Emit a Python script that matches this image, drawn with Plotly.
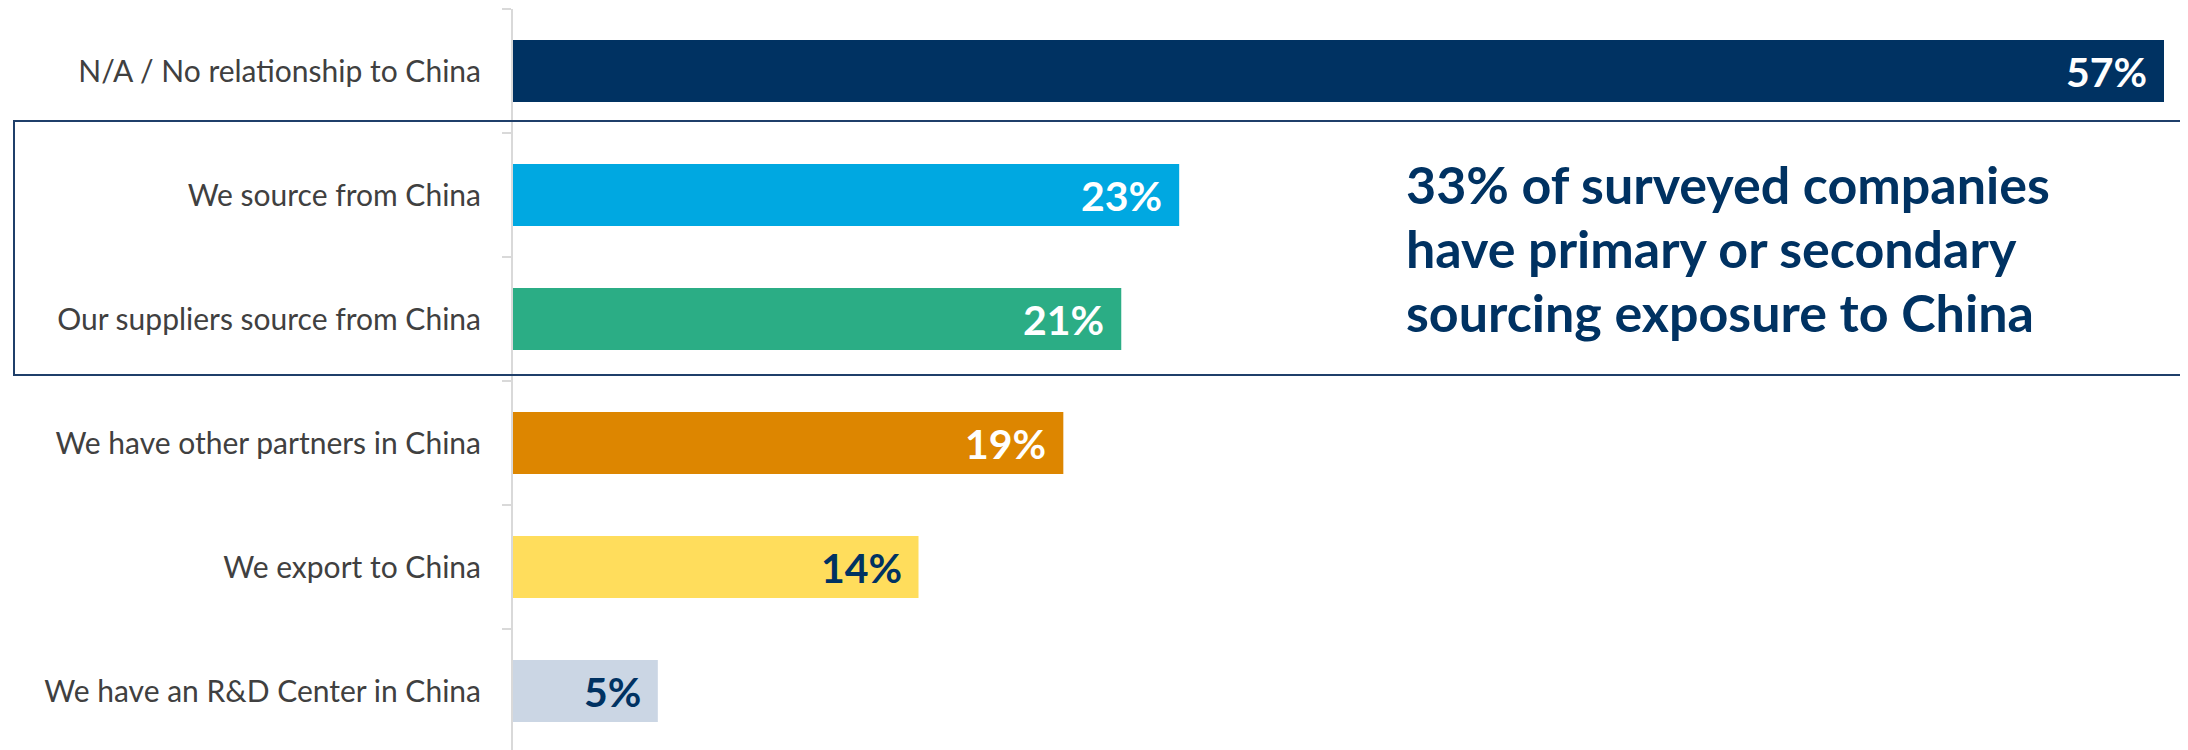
import plotly.graph_objects as go

categories = [
    "N/A / No relationship to China",
    "We source from China",
    "Our suppliers source from China",
    "We have other partners in China",
    "We export to China",
    "We have an R&D Center in China",
]
values = [57, 23, 21, 19, 14, 5]
bar_colors = ["#003262", "#00A8E1", "#2BAD85", "#DD8600", "#FFDD5C", "#CBD6E4"]
label_colors = ["#FFFFFF", "#FFFFFF", "#FFFFFF", "#FFFFFF", "#003262", "#003262"]
callout_lines = [
    "33% of surveyed companies",
    "have primary or secondary",
    "sourcing exposure to China",
]

OFF = 8  # page body margin
W, H = 2188, 750
ML, MR, MT, MB = 513 - OFF, 24 + OFF, 9 - OFF, 0
plot_h = H - MT - MB
band = 124.0

fig = go.Figure()
fig.add_trace(go.Bar(
    x=values, y=categories, orientation="h",
    marker=dict(color=bar_colors, line=dict(width=0)),
    width=0.5, hoverinfo="skip",
))

for v, c, tc in zip(values, categories, label_colors):
    fig.add_annotation(
        x=v, y=c, xref="x", yref="y", text=f"<b>{v}%</b>", showarrow=False,
        xanchor="right", yanchor="middle", xshift=-15,
        font=dict(family="Lato", size=41, color=tc),
    )

plot_w = W - ML - MR
def px_to_paper_x(px):
    return (px - OFF - ML) / plot_w
def px_to_paper_y(py):
    return 1 - (py - OFF - MT) / plot_h

fig.add_shape(
    type="rect", xref="paper", yref="paper",
    x0=px_to_paper_x(14), x1=px_to_paper_x(2186),
    y0=px_to_paper_y(375), y1=px_to_paper_y(121),
    line=dict(color="#1F3F6A", width=2), fillcolor="rgba(0,0,0,0)", layer="above",
)
for i, line in enumerate(callout_lines):
    fig.add_annotation(
        x=px_to_paper_x(1404), y=px_to_paper_y(184 + 64 * i), xref="paper", yref="paper",
        text=f"<b>{line}</b>", showarrow=False, xanchor="left", yanchor="middle",
        font=dict(family="Lato", size=52, color="#003262"),
    )

fig.update_layout(
    width=W, height=H,
    margin=dict(l=ML, r=MR, t=MT, b=MB),
    plot_bgcolor="white", paper_bgcolor="white",
    showlegend=False,
    bargap=0.5,
    xaxis=dict(range=[0, 57], visible=False, fixedrange=True),
    yaxis=dict(
        type="category",
        range=[-0.5 + plot_h / band, -0.5],
        showline=True, linecolor="#D9D9D9", linewidth=2,
        ticks="outside", ticklen=9, tickcolor="#D9D9D9", tickwidth=2,
        tickson="boundaries", showgrid=False, zeroline=False,
        ticklabelstandoff=24,
        tickfont=dict(family="Lato", size=30, color="#404040"),
        automargin=False,
    ),
)

fig.write_html("out.html")
